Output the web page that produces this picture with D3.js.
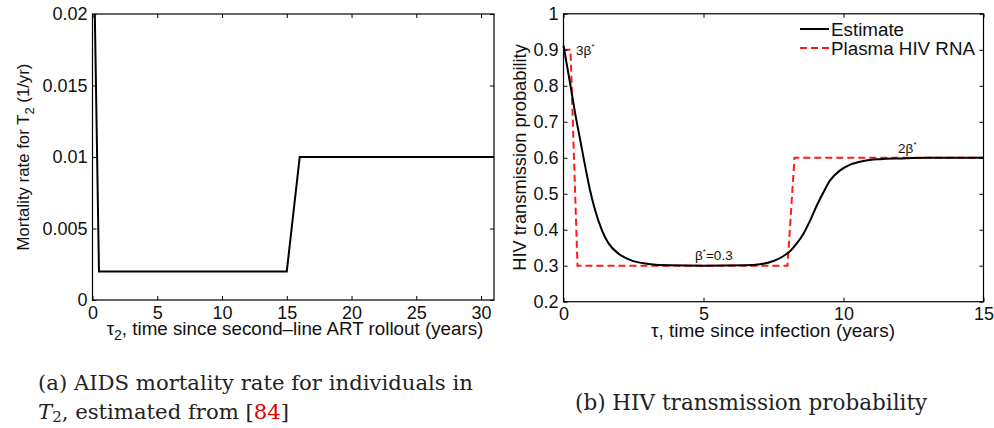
<!DOCTYPE html>
<html><head><meta charset="utf-8">
<script src="https://cdnjs.cloudflare.com/ajax/libs/d3/7.8.5/d3.min.js"></script>
<style>
body{margin:0;background:#fff;}
svg{display:block;}
text{font-family:"Liberation Sans",Arial,sans-serif;fill:#111;}
.cap{font-family:"DejaVu Serif","Liberation Serif",serif;fill:#222;}
</style></head>
<body>
<svg id="c" width="994" height="428"></svg>
<script>
// ---- Data: panel (a) mortality rate for T2
const mortTau = [0, 0.5, 15, 16, 31];
const mortRate = [0.03, 0.002, 0.002, 0.01, 0.01];
const mortXTicks = [0, 5, 10, 15, 20, 25, 30];
const mortYTicks = [0, 0.005, 0.01, 0.015, 0.02];
const mortYLabels = ["0", "0.005", "0.01", "0.015", "0.02"];

// ---- Data: panel (b) HIV transmission probability
const estTau = [0, 0.24, 0.42, 0.60, 0.78, 0.95, 1.13, 1.37, 1.61, 1.96, 2.44, 3.04, 3.75, 5, 6.5, 7.02, 7.5, 7.86, 8.1, 8.33, 8.57, 8.81, 9.05, 9.29, 9.52, 9.88, 10.24, 10.71, 11.31, 12.02, 13, 15];
const estProb = [0.912, 0.805, 0.722, 0.648, 0.574, 0.509, 0.454, 0.399, 0.362, 0.334, 0.314, 0.305, 0.301, 0.300, 0.301, 0.304, 0.313, 0.327, 0.341, 0.362, 0.389, 0.426, 0.468, 0.505, 0.537, 0.565, 0.581, 0.591, 0.596, 0.598, 0.600, 0.600];
const rnaTau = [0, 0.25, 0.5, 8, 8.25, 15];
const rnaProb = [0.9, 0.9, 0.3, 0.3, 0.6, 0.6];
const probXTicks = [0, 5, 10, 15];
const probYTicks = [0.2, 0.3, 0.4, 0.5, 0.6, 0.7, 0.8, 0.9, 1];
const probYLabels = ["0.2", "0.3", "0.4", "0.5", "0.6", "0.7", "0.8", "0.9", "1"];
const legendLabels = ["Estimate", "Plasma HIV RNA"];

const svg = d3.select("#c");
const TICK = 4;

function frame(g, x, y, xTicks, yTicks, yLabels) {
  const [x0, x1] = x.range(), [y0, y1] = y.range(); // y0 bottom
  const bx = d3.axisBottom(x).tickValues(xTicks).tickSize(-TICK).tickPadding(6).tickFormat(d3.format("d"));
  g.append("g").attr("transform", `translate(0,${y0})`).call(bx);
  const tx = d3.axisTop(x).tickValues(xTicks).tickSize(-TICK).tickFormat("");
  g.append("g").attr("transform", `translate(0,${y1})`).call(tx);
  const ly = d3.axisLeft(y).tickValues(yTicks).tickSize(-TICK).tickPadding(5).tickFormat((d, i) => yLabels[i]);
  g.append("g").attr("transform", `translate(${x0},0)`).call(ly);
  const ry = d3.axisRight(y).tickValues(yTicks).tickSize(-TICK).tickFormat("");
  g.append("g").attr("transform", `translate(${x1},0)`).call(ry);
  g.selectAll(".domain").remove();
  g.selectAll(".tick line").attr("stroke", "#000").attr("stroke-width", 1);
  g.selectAll(".tick text").attr("font-size", 18).attr("fill", "#111").attr("font-family", '"Liberation Sans",Arial,sans-serif');
  g.append("rect").attr("x", x0).attr("y", y1).attr("width", x1 - x0).attr("height", y0 - y1)
    .attr("fill", "none").attr("stroke", "#000").attr("stroke-width", 1.2);
}

// ---------- Panel (a)
const xa = d3.scaleLinear().domain([0, 31]).range([92.5, 494]);
const ya = d3.scaleLinear().domain([0, 0.02]).range([300, 14]);
const ga = svg.append("g");
ga.append("clipPath").attr("id", "clipA").append("rect")
  .attr("x", 92.5).attr("y", 14).attr("width", 494 - 92.5).attr("height", 286);
ga.append("path")
  .datum(mortTau.map((t, i) => [t, mortRate[i]]))
  .attr("clip-path", "url(#clipA)")
  .attr("fill", "none").attr("stroke", "#000").attr("stroke-width", 2)
  .attr("d", d3.line().x(d => xa(d[0])).y(d => ya(d[1])));
frame(ga, xa, ya, mortXTicks, mortYTicks, mortYLabels);

const xla = ga.append("text").attr("x", 295).attr("y", 335).attr("text-anchor", "middle").attr("font-size", 18.8);
xla.append("tspan").text("τ");
xla.append("tspan").attr("font-size", 14).attr("dy", 5).text("2");
xla.append("tspan").attr("dy", -5).text(", time since second–line ART rollout (years)");
const yla = ga.append("text").attr("transform", "translate(29,157) rotate(-90)").attr("text-anchor", "middle").attr("font-size", 16.8);
yla.append("tspan").text("Mortality rate for T");
yla.append("tspan").attr("font-size", 13).attr("dy", 5).text("2");
yla.append("tspan").attr("dy", -5).text(" (1/yr)");

// ---------- Panel (b)
const xb = d3.scaleLinear().domain([0, 15]).range([563.5, 983.5]);
const yb = d3.scaleLinear().domain([0.2, 1]).range([301.7, 13.8]);
const gb = svg.append("g");
gb.append("path")
  .datum(rnaTau.map((t, i) => [t, rnaProb[i]]))
  .attr("fill", "none").attr("stroke", "#ff1a1a").attr("stroke-width", 2).attr("stroke-dasharray", "7,4")
  .attr("d", d3.line().x(d => xb(d[0])).y(d => yb(d[1])));
gb.append("path")
  .datum(estTau.map((t, i) => [t, estProb[i]]))
  .attr("fill", "none").attr("stroke", "#000").attr("stroke-width", 2)
  .attr("d", d3.line().curve(d3.curveMonotoneX).x(d => xb(d[0])).y(d => yb(d[1])));
frame(gb, xb, yb, probXTicks, probYTicks, probYLabels);

function ann(x, y, pre, post) {
  const t = gb.append("text").attr("x", x).attr("y", y).attr("font-size", 13.5);
  t.append("tspan").text(pre);
  t.append("tspan").attr("font-size", 8).attr("dy", -6).text("*");
  if (post) t.append("tspan").attr("dy", 6).text(post);
}
ann(xb(0.45), yb(0.885), "3β", "");
ann(xb(4.7), yb(0.315), "β", "=0.3");
ann(xb(11.95), yb(0.614), "2β", "");

gb.append("text").attr("x", 773).attr("y", 337).attr("text-anchor", "middle").attr("font-size", 19)
  .text("τ, time since infection (years)");
gb.append("text").attr("transform", "translate(526,157.5) rotate(-90)").attr("text-anchor", "middle").attr("font-size", 18.3)
  .text("HIV transmission probability");

const lg = gb.append("g");
const legStyles = [{stroke: "#000", dash: null, y: 29}, {stroke: "#ff1a1a", dash: "7,4", y: 48}];
legendLabels.forEach((lab, i) => {
  const s = legStyles[i];
  lg.append("line").attr("x1", 800).attr("x2", 829).attr("y1", s.y).attr("y2", s.y)
    .attr("stroke", s.stroke).attr("stroke-width", 2).attr("stroke-dasharray", s.dash);
  lg.append("text").attr("x", 831).attr("y", s.y).attr("dy", "0.35em").attr("font-size", 18.8).text(lab);
});

// ---------- Captions
svg.append("text").attr("class", "cap").attr("x", 38).attr("y", 390).attr("font-size", 21.2)
  .text("(a) AIDS mortality rate for individuals in");
const c2 = svg.append("text").attr("class", "cap").attr("x", 38).attr("y", 419).attr("font-size", 21.2);
c2.append("tspan").attr("font-style", "italic").text("T");
c2.append("tspan").attr("font-size", 15).attr("dy", 3).text("2");
c2.append("tspan").attr("dy", -3).text(", estimated from [");
c2.append("tspan").style("fill", "#e00000").text("84");
c2.append("tspan").text("]");
svg.append("text").attr("class", "cap").attr("x", 575).attr("y", 410).attr("font-size", 21.5)
  .text("(b) HIV transmission probability");
</script>
</body></html>
